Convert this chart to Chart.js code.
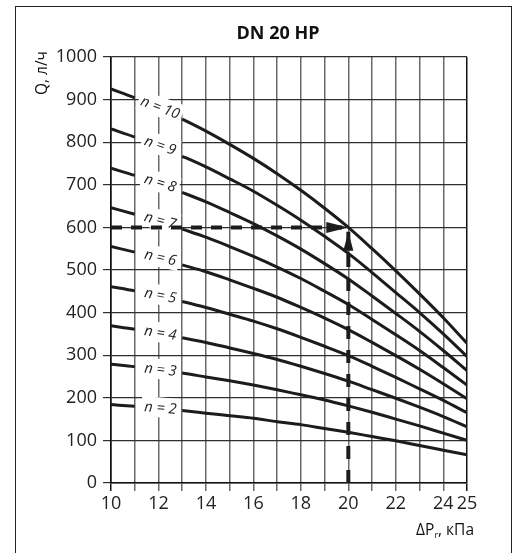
<!DOCTYPE html>
<html>
<head>
<meta charset="utf-8">
<script src="https://cdn.jsdelivr.net/npm/chart.js@4.4.1/dist/chart.umd.min.js"></script>
<style>
  html, body { margin: 0; padding: 0; background: #fff; }
  #wrap { position: relative; width: 518px; height: 553px; overflow: hidden; }
  #frame { position: absolute; left: 15px; top: 6px; width: 497px; height: 600px; box-sizing: border-box; border: 1.5px solid #222; }
  canvas { position: absolute; left: 0; top: 0; }
</style>
</head>
<body>
<div id="wrap">
  <div id="frame"></div>
  <canvas id="chart" width="518" height="553"></canvas>
</div>
<script>
// ΔP (kPa) where the curves are read
const dp = [10, 11, 12, 13, 14, 15, 16, 17, 18, 19, 20, 21, 22, 23, 24, 25];

// Q (l/h) for each setting n
const q2  = [184, 180, 175, 170, 164, 158, 152, 144, 137, 128, 119, 109, 99, 88, 77, 66];
const q3  = [279, 273, 265, 258, 249, 240, 230, 219, 207, 195, 181, 166, 150, 134, 117, 100];
const q4  = [369, 361, 351, 341, 330, 317, 304, 290, 274, 257, 239, 219, 199, 178, 156, 132];
const q5  = [461, 451, 439, 426, 412, 396, 380, 362, 342, 321, 299, 274, 248, 221, 194, 165];
const q6  = [555, 542, 528, 512, 496, 477, 457, 436, 412, 387, 360, 330, 299, 267, 233, 198];
const q7  = [646, 631, 615, 596, 577, 555, 532, 507, 480, 450, 419, 384, 348, 311, 271, 230];
const q8  = [739, 722, 703, 682, 660, 635, 609, 580, 549, 515, 479, 439, 398, 356, 311, 264];
const q9  = [831, 812, 791, 767, 742, 714, 685, 652, 617, 579, 539, 494, 447, 400, 350, 297];
const q10 = [925, 904, 880, 854, 826, 795, 762, 726, 687, 645, 600, 550, 498, 444, 388, 328];

const settings = [2, 3, 4, 5, 6, 7, 8, 9, 10];
const curves = [q2, q3, q4, q5, q6, q7, q8, q9, q10];

// design point shown by the dashed arrows
const designDp = 20;
const designQ = 600;

const FONT = '"Open Sans", "DejaVu Sans", sans-serif';
const INK = '#1c1c1c';

const datasets = curves.map((vals, i) => ({
  label: 'n = ' + settings[i],
  data: dp.map((x, j) => ({ x: x, y: vals[j] })),
  borderColor: INK,
  borderWidth: 3,
  pointRadius: 0,
  cubicInterpolationMode: 'monotone',
  // leave a gap where the label sits
  segment: {
    borderColor: ctx => (ctx.p0.parsed.x >= 11 && ctx.p1.parsed.x <= 13) ? 'rgba(0,0,0,0)' : undefined
  }
}));

datasets.push({
  label: 'design Q',
  data: [{ x: dp[0], y: designQ }, { x: designDp, y: designQ }],
  borderColor: INK,
  borderWidth: 4,
  borderDash: [11, 9],
  pointRadius: 0
});
datasets.push({
  label: 'design dP',
  data: [{ x: designDp, y: 0 }, { x: designDp, y: designQ - 10 }],
  borderColor: INK,
  borderWidth: 4,
  borderDash: [13, 11],
  pointRadius: 0
});

const decor = {
  id: 'decor',
  beforeDatasetsDraw(chart) {
    const { ctx, scales: { x, y } } = chart;
    ctx.save();
    ctx.font = 'italic 14.5px ' + FONT;
    ctx.textAlign = 'center';
    ctx.textBaseline = 'middle';
    curves.forEach((vals, i) => {
      const x1 = x.getPixelForValue(dp[1]), y1 = y.getPixelForValue(vals[1]);
      const x3 = x.getPixelForValue(dp[3]), y3 = y.getPixelForValue(vals[3]);
      const ang = Math.atan2(y3 - y1, x3 - x1) * 0.85;
      const cx = x.getPixelForValue(dp[2]) + 2;
      const cy = y.getPixelForValue(vals[2]) - 1;
      const txt = 'n = ' + settings[i];
      const w = ctx.measureText(txt).width;
      ctx.save();
      ctx.translate(cx, cy);
      ctx.rotate(ang);
      ctx.fillStyle = '#fff';
      ctx.fillRect(-w / 2 - 3, -10, w + 6, 20);
      ctx.fillStyle = '#222';
      ctx.fillText(txt, 0, 1);
      ctx.restore();
    });
    ctx.restore();
  },
  afterDatasetsDraw(chart) {
    const { ctx, scales: { x, y } } = chart;
    ctx.save();
    ctx.fillStyle = INK;
    // arrow to the right, tip on the design point
    let tx = x.getPixelForValue(designDp), ty = y.getPixelForValue(designQ);
    ctx.beginPath();
    ctx.moveTo(tx, ty);
    ctx.lineTo(tx - 22, ty - 5.5);
    ctx.lineTo(tx - 22, ty + 5.5);
    ctx.closePath();
    ctx.fill();
    // arrow pointing up
    ty = y.getPixelForValue(designQ - 10);
    ctx.beginPath();
    ctx.moveTo(tx, ty);
    ctx.lineTo(tx - 5, ty + 19);
    ctx.lineTo(tx + 5, ty + 19);
    ctx.closePath();
    ctx.fill();
    ctx.restore();
  },
  afterDraw(chart) {
    const { ctx } = chart;
    ctx.save();
    ctx.fillStyle = '#111';
    ctx.font = 'bold 18px ' + FONT;
    ctx.textAlign = 'center';
    ctx.textBaseline = 'middle';
    ctx.fillText('DN 20 HP', 278, 34);

    // y axis title, near the top
    ctx.font = '15.5px ' + FONT;
    ctx.save();
    ctx.translate(43, 73);
    ctx.rotate(-Math.PI / 2);
    ctx.fillText('Q, л/ч', 0, 0);
    ctx.restore();

    // x axis title with subscript
    ctx.textAlign = 'left';
    ctx.textBaseline = 'alphabetic';
    const big = '15.5px ' + FONT, small = '9px ' + FONT;
    ctx.font = big;
    const wA = ctx.measureText('ΔP').width;
    const wC = ctx.measureText(', кПа').width;
    ctx.font = small;
    const wB = ctx.measureText('r').width;
    let px = 474 - (wA + wB + wC);
    const base = 535;
    ctx.font = big;
    ctx.fillText('ΔP', px, base);
    px += wA;
    ctx.font = small;
    ctx.fillText('r', px, base + 3);
    px += wB;
    ctx.font = big;
    ctx.fillText(', кПа', px, base);
    ctx.restore();
  }
};

new Chart(document.getElementById('chart'), {
  type: 'line',
  data: { datasets: datasets },
  options: {
    responsive: false,
    animation: false,
    layout: { padding: { left: 0, right: 51, top: 57, bottom: 0 } },
    plugins: { legend: { display: false }, tooltip: { enabled: false }, title: { display: false } },
    scales: {
      x: {
        type: 'linear',
        min: 10,
        max: 25,
        afterFit: s => { s.height = 70; },
        border: { color: '#111', width: 1.5 },
        grid: {
          color: c => (c.tick && (c.tick.value === 10 || c.tick.value === 25)) ? '#111' : '#6a6a6a',
          lineWidth: 1.5,
          tickLength: 8
        },
        ticks: {
          stepSize: 1,
          autoSkip: false,
          maxRotation: 0,
          padding: 2,
          color: '#222',
          font: { family: FONT, size: 18 },
          callback: v => (v % 2 === 0 || v === 25) ? String(v) : ''
        }
      },
      y: {
        min: 0,
        max: 1000,
        afterFit: s => { s.width = 111; },
        border: { color: '#111', width: 1.5 },
        grid: { color: '#2e2e2e', lineWidth: 1.2, tickLength: 8 },
        ticks: {
          stepSize: 100,
          padding: 6,
          color: '#222',
          font: { family: FONT, size: 18 },
          callback: v => String(v)
        }
      }
    }
  },
  plugins: [decor]
});
</script>
</body>
</html>
